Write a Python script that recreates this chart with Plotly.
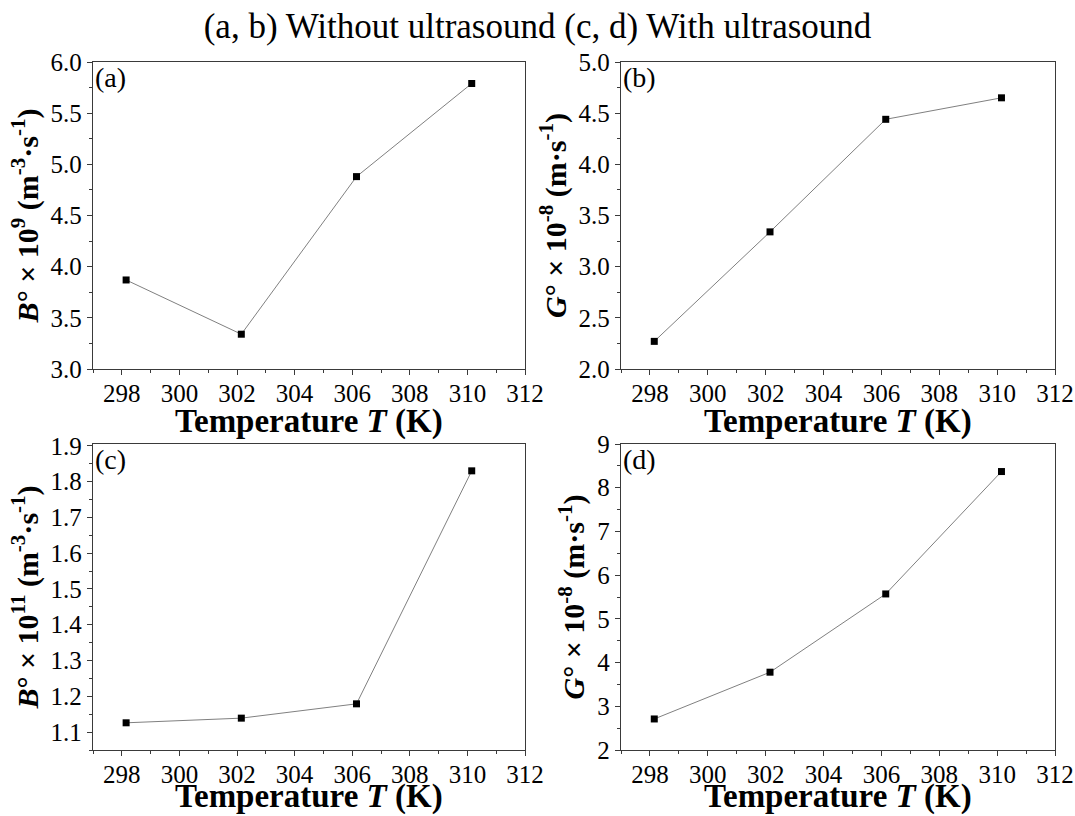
import plotly.graph_objects as go

# Temperatures (K)
temperature = [298.15, 302.15, 306.15, 310.15]

# Without ultrasound
b0_without = [3.87, 3.34, 4.88, 5.79]   # B° × 10^9
g0_without = [2.27, 3.34, 4.44, 4.65]   # G° × 10^-8
# With ultrasound
b0_with = [1.126, 1.139, 1.179, 1.83]   # B° × 10^11
g0_with = [2.71, 3.78, 5.57, 8.37]      # G° × 10^-8

panel_labels = ["(a)", "(b)", "(c)", "(d)"]
y_titles = [
    "<b><i>B</i>° × 10<sup>9</sup> (m<sup>-3</sup>·s<sup>-1</sup>)</b>",
    "<b><i>G</i>° × 10<sup>-8</sup> (m·s<sup>-1</sup>)</b>",
    "<b><i>B</i>° × 10<sup>11</sup> (m<sup>-3</sup>·s<sup>-1</sup>)</b>",
    "<b><i>G</i>° × 10<sup>-8</sup> (m·s<sup>-1</sup>)</b>",
]
y_ranges = [[3.0, 6.0], [2.0, 5.0], [1.05, 1.905], [2, 9]]
y_dticks = [0.5, 0.5, 0.1, 1]
y_tick0 = [3.0, 2.0, 1.1, 2]
y_formats = [".1f", ".1f", ".1f", "d"]
x_title = "<b>Temperature <i>T</i> (K)</b>"
title_text = "(a, b) Without ultrasound (c, d) With ultrasound"

series = [b0_without, g0_without, b0_with, g0_with]

W, H = 1075, 816
x_doms = [[93 / W, 525 / W], [621 / W, 1055 / W]]
y_doms = [[1 - 369 / H, 1 - 62 / H], [1 - 750 / H, 1 - 444 / H]]
x_title_y = [421, 796]  # vertical centre of the x-axis titles, px from top

FONT = "Liberation Serif"
AX = "#3a3a3a"

fig = go.Figure()
for i, vals in enumerate(series):
    n = i + 1
    xa = "x" if n == 1 else f"x{n}"
    ya = "y" if n == 1 else f"y{n}"
    fig.add_trace(go.Scatter(
        x=temperature, y=vals, xaxis=xa, yaxis=ya,
        mode="lines+markers",
        line=dict(color="#808080", width=1),
        marker=dict(symbol="square", size=7, color="black"),
        showlegend=False, cliponaxis=False,
    ))
    col = i % 2
    row = i // 2
    axis_common = dict(
        automargin=False,
        showline=True, linecolor=AX, linewidth=1.4, mirror=True,
        ticks="outside", ticklen=5, tickwidth=1.3, tickcolor=AX,
        showgrid=False, zeroline=False,
        tickfont=dict(family=FONT, size=25, color="black"),
    )
    fig.layout[f"xaxis{'' if n == 1 else n}"] = dict(
        domain=x_doms[col], anchor=ya, range=[297, 312],
        tick0=298, dtick=2, ticklabelstandoff=-3,
        minor=dict(ticks="outside", ticklen=3, tickwidth=1.2, tickcolor=AX, dtick=1, tick0=297),
        **axis_common,
    )
    fig.layout[f"yaxis{'' if n == 1 else n}"] = dict(
        domain=y_doms[row], anchor=xa, range=y_ranges[i],
        dtick=y_dticks[i], tick0=y_tick0[i], tickformat=y_formats[i],
        minor=dict(ticks="outside", ticklen=3, tickwidth=1.2, tickcolor=AX,
                   dtick=y_dticks[i] / 2),
        title=dict(text=y_titles[i], font=dict(family=FONT, size=30, color="black"), standoff=3),
        **axis_common,
    )
    # x-axis title, centred under the panel
    fig.add_annotation(
        text=x_title, xref="paper", yref="paper",
        x=sum(x_doms[col]) / 2, y=1 - x_title_y[row] / H,
        xanchor="center", yanchor="middle", showarrow=False,
        font=dict(family=FONT, size=33, color="black"),
    )
    # panel letter
    fig.add_annotation(
        text=panel_labels[i], xref=f"{xa} domain", yref=f"{ya} domain",
        x=0.0, y=1.005, xanchor="left", yanchor="top", showarrow=False,
        font=dict(family=FONT, size=28, color="black"),
    )

fig.update_layout(
    width=W, height=H,
    margin=dict(l=0, r=0, t=0, b=0, autoexpand=False),
    font=dict(family=FONT, color="black"),
    paper_bgcolor="white", plot_bgcolor="white",
    title=dict(text=title_text, x=0.5, xanchor="center", y=1 - 26 / H, yanchor="middle",
               font=dict(family=FONT, size=35, color="black")),
)

fig.write_html("out.html")
